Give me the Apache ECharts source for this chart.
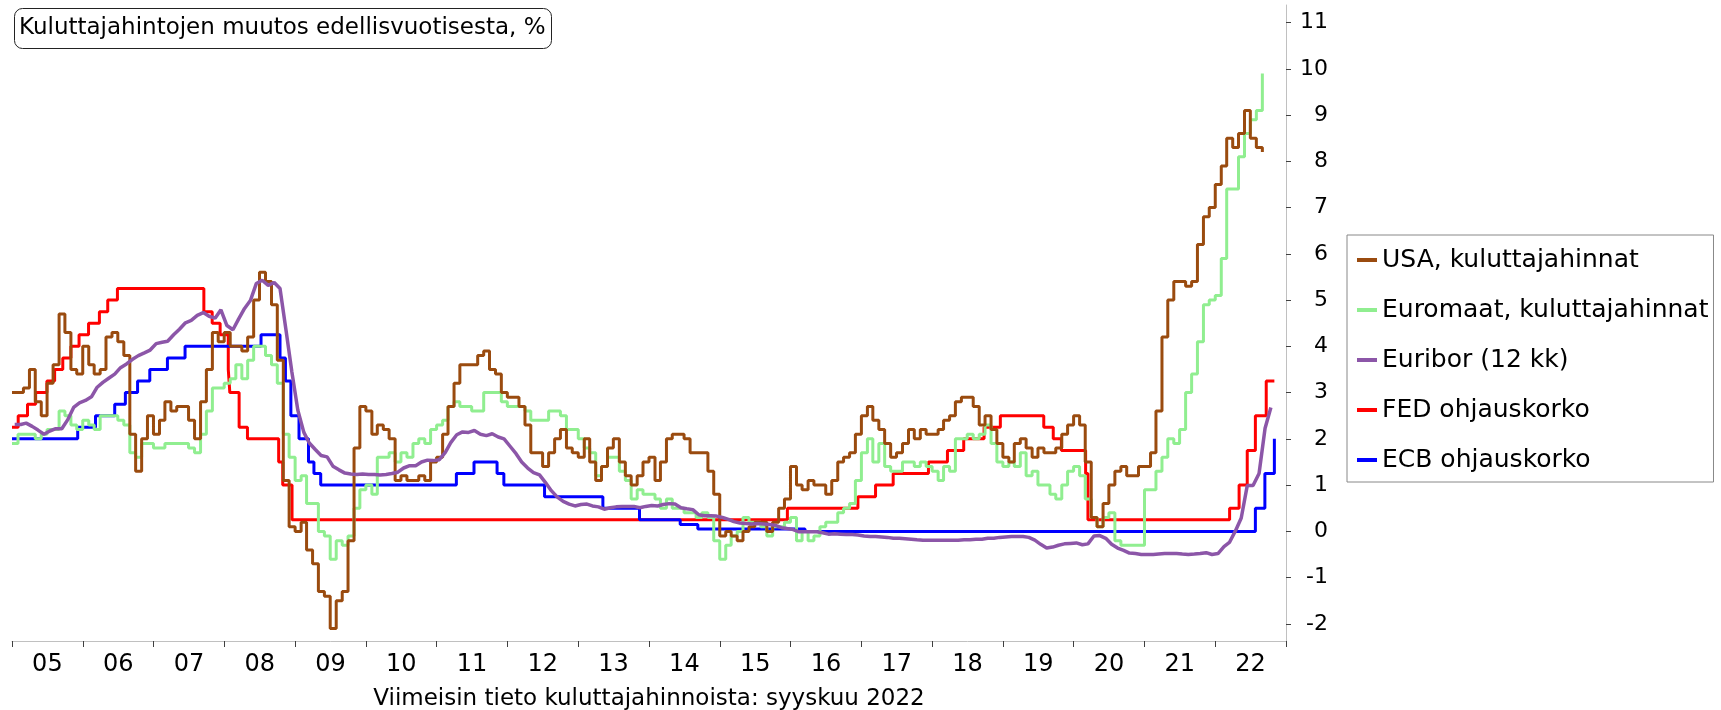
<!DOCTYPE html>
<html>
<head>
<meta charset="utf-8">
<script src="https://cdn.jsdelivr.net/npm/echarts@6/dist/echarts.min.js"></script>
<style>
  html, body { margin: 0; padding: 0; background: #fff; }
  #chart { width: 1721px; height: 710px; }
</style>
</head>
<body>
<div id="chart"></div>
<script>
// year labels on the x axis (2005-2022)
const yearLabels = ['05', '06', '07', '08', '09', '10', '11', '12', '13', '14', '15', '16', '17', '18', '19', '20', '21', '22'];
const yTicks = [-2, -1, 0, 1, 2, 3, 4, 5, 6, 7, 8, 9, 10, 11];

// monthly, Jan 2005 ->
const usaCpi = [
  3.0, 3.0, 3.1, 3.5, 2.8, 2.5, 3.2, 3.6, 4.7, 4.3, 3.5, 3.4,
  4.0, 3.6, 3.4, 3.5, 4.2, 4.3, 4.1, 3.8, 2.1, 1.3, 2.0, 2.5,
  2.1, 2.4, 2.8, 2.6, 2.7, 2.7, 2.4, 2.0, 2.8, 3.5, 4.3, 4.1,
  4.3, 4.0, 4.0, 3.9, 4.2, 5.0, 5.6, 5.4, 4.9, 3.7, 1.1, 0.1,
  0.0, 0.2, -0.4, -0.7, -1.3, -1.4, -2.1, -1.5, -1.3, -0.2, 1.8, 2.7,
  2.6, 2.1, 2.3, 2.2, 2.0, 1.1, 1.2, 1.1, 1.1, 1.2, 1.1, 1.5,
  1.6, 2.1, 2.7, 3.2, 3.6, 3.6, 3.6, 3.8, 3.9, 3.5, 3.4, 3.0,
  2.9, 2.9, 2.7, 2.3, 1.7, 1.7, 1.4, 1.7, 2.0, 2.2, 1.8, 1.7,
  1.6, 2.0, 1.5, 1.1, 1.4, 1.8, 2.0, 1.5, 1.2, 1.0, 1.2, 1.5,
  1.6, 1.1, 1.5, 2.0, 2.1, 2.1, 2.0, 1.7, 1.7, 1.7, 1.3, 0.8,
  -0.1, 0.0, -0.1, -0.2, 0.0, 0.1, 0.2, 0.2, 0.0, 0.2, 0.5, 0.7,
  1.4, 1.0, 0.9, 1.1, 1.0, 1.0, 0.8, 1.1, 1.5, 1.6, 1.7, 2.1,
  2.5, 2.7, 2.4, 2.2, 1.9, 1.6, 1.7, 1.9, 2.2, 2.0, 2.2, 2.1,
  2.1, 2.2, 2.4, 2.5, 2.8, 2.9, 2.9, 2.7, 2.3, 2.5, 2.2, 1.9,
  1.6, 1.5, 1.9, 2.0, 1.8, 1.6, 1.8, 1.7, 1.7, 1.8, 2.1, 2.3,
  2.5, 2.3, 1.5, 0.3, 0.1, 0.6, 1.0, 1.3, 1.4, 1.2, 1.2, 1.4,
  1.4, 1.7, 2.6, 4.2, 5.0, 5.4, 5.4, 5.3, 5.4, 6.2, 6.8, 7.0,
  7.5, 7.9, 8.5, 8.3, 8.6, 9.1, 8.5, 8.3, 8.2
];

const euroCpi = [
  1.9, 2.1, 2.1, 2.1, 2.0, 2.1, 2.2, 2.2, 2.6, 2.5, 2.3, 2.2,
  2.4, 2.3, 2.2, 2.5, 2.5, 2.5, 2.4, 2.3, 1.7, 1.6, 1.9, 1.9,
  1.8, 1.8, 1.9, 1.9, 1.9, 1.9, 1.8, 1.7, 2.1, 2.6, 3.1, 3.1,
  3.2, 3.3, 3.6, 3.3, 3.7, 4.0, 4.0, 3.8, 3.6, 3.2, 2.1, 1.6,
  1.1, 1.2, 0.6, 0.6, 0.0, -0.1, -0.6, -0.2, -0.3, -0.1, 0.5, 0.9,
  1.0, 0.8, 1.6, 1.6, 1.7, 1.5, 1.7, 1.6, 1.9, 2.0, 1.9, 2.2,
  2.3, 2.4, 2.7, 2.8, 2.7, 2.7, 2.6, 2.6, 3.0, 3.0, 3.0, 2.8,
  2.7, 2.7, 2.7, 2.6, 2.4, 2.4, 2.4, 2.6, 2.6, 2.5, 2.2, 2.2,
  2.0, 1.8, 1.7, 1.2, 1.4, 1.6, 1.6, 1.3, 1.1, 0.7, 0.9, 0.8,
  0.8, 0.7, 0.5, 0.7, 0.5, 0.5, 0.4, 0.4, 0.3, 0.4, 0.3, -0.2,
  -0.6, -0.3, -0.1, 0.0, 0.3, 0.2, 0.2, 0.1, -0.1, 0.1, 0.1, 0.2,
  0.3, -0.2, 0.0, -0.2, -0.1, 0.1, 0.2, 0.2, 0.4, 0.5, 0.6, 1.1,
  1.7, 2.0, 1.5, 1.9, 1.4, 1.3, 1.3, 1.5, 1.5, 1.4, 1.5, 1.4,
  1.3, 1.1, 1.4, 1.3, 2.0, 2.0, 2.1, 2.0, 2.1, 2.3, 1.9, 1.5,
  1.4, 1.5, 1.4, 1.7, 1.2, 1.3, 1.0, 1.0, 0.8, 0.7, 1.0, 1.3,
  1.4, 1.2, 0.7, 0.3, 0.1, 0.3, 0.4, -0.2, -0.3, -0.3, -0.3, -0.3,
  0.9, 0.9, 1.3, 1.6, 2.0, 1.9, 2.2, 3.0, 3.4, 4.1, 4.9, 5.0,
  5.1, 5.9, 7.4, 7.4, 8.1, 8.6, 8.9, 9.1, 9.9
];

// 12 month Euribor, monthly averages, Jan 2005 ->
const euribor12m = [
  2.31, 2.31, 2.34, 2.27, 2.19, 2.10, 2.17, 2.22, 2.22, 2.41, 2.68, 2.78,
  2.83, 2.91, 3.11, 3.22, 3.31, 3.40, 3.54, 3.62, 3.72, 3.80, 3.86, 3.92,
  4.06, 4.09, 4.11, 4.25, 4.37, 4.51, 4.56, 4.67, 4.73, 4.65, 4.61, 4.79,
  4.45, 4.36, 4.59, 4.82, 4.99, 5.36, 5.43, 5.32, 5.38, 5.25, 4.35, 3.45,
  2.62, 2.14, 1.91, 1.77, 1.64, 1.61, 1.41, 1.33, 1.26, 1.24, 1.23, 1.24,
  1.23, 1.23, 1.22, 1.23, 1.25, 1.28, 1.37, 1.42, 1.42, 1.50, 1.54, 1.53,
  1.55, 1.71, 1.92, 2.09, 2.15, 2.14, 2.18, 2.10, 2.07, 2.11, 2.04, 2.00,
  1.84, 1.68, 1.50, 1.37, 1.27, 1.22, 1.06, 0.88, 0.74, 0.65, 0.59, 0.55,
  0.58, 0.59, 0.55, 0.53, 0.48, 0.51, 0.53, 0.54, 0.54, 0.54, 0.51, 0.54,
  0.56, 0.55, 0.58, 0.60, 0.59, 0.51, 0.49, 0.47, 0.36, 0.34, 0.34, 0.33,
  0.30, 0.26, 0.21, 0.18, 0.17, 0.16, 0.17, 0.16, 0.15, 0.13, 0.08, 0.06,
  0.04, -0.01, -0.01, -0.01, -0.01, -0.03, -0.06, -0.05, -0.06, -0.07, -0.07, -0.08,
  -0.10, -0.11, -0.11, -0.12, -0.13, -0.15, -0.15, -0.16, -0.17, -0.18, -0.19, -0.19,
  -0.19, -0.19, -0.19, -0.19, -0.19, -0.18, -0.18, -0.17, -0.17, -0.15, -0.15, -0.13,
  -0.12, -0.11, -0.11, -0.11, -0.13, -0.19, -0.28, -0.36, -0.34, -0.30, -0.27, -0.26,
  -0.25, -0.29, -0.27, -0.10, -0.09, -0.15, -0.28, -0.36, -0.41, -0.47, -0.48, -0.50,
  -0.50, -0.50, -0.49, -0.48, -0.48, -0.48, -0.49, -0.50, -0.49, -0.48, -0.46, -0.50,
  -0.48, -0.33, -0.24, 0.01, 0.29, 0.99, 0.99, 1.25, 2.23, 2.68
];

// policy rates: change dates and new levels, last entry = end of data
const fedDates = [
  '2005-01-01', '2005-02-02', '2005-03-22', '2005-05-03', '2005-06-30', '2005-08-09',
  '2005-09-20', '2005-11-01', '2005-12-13', '2006-01-31', '2006-03-28', '2006-05-10',
  '2006-06-29', '2007-09-18', '2007-10-31', '2007-12-11', '2008-01-22', '2008-01-30',
  '2008-03-18', '2008-04-30', '2008-10-08', '2008-10-29', '2008-12-16', '2015-12-16',
  '2016-12-14', '2017-03-15', '2017-06-14', '2017-12-13', '2018-03-21', '2018-06-13',
  '2018-09-26', '2018-12-19', '2019-07-31', '2019-09-18', '2019-10-30', '2020-03-03',
  '2020-03-15', '2022-03-16', '2022-05-04', '2022-06-15', '2022-07-27', '2022-09-21',
  '2022-11-02'
];
const fedRate = [
  2.25, 2.5, 2.75, 3.0, 3.25, 3.5,
  3.75, 4.0, 4.25, 4.5, 4.75, 5.0,
  5.25, 4.75, 4.5, 4.25, 3.5, 3.0,
  2.25, 2.0, 1.5, 1.0, 0.25, 0.5,
  0.75, 1.0, 1.25, 1.5, 1.75, 2.0,
  2.25, 2.5, 2.25, 2.0, 1.75, 1.25,
  0.25, 0.5, 1.0, 1.75, 2.5, 3.25,
  3.25
];

const ecbDates = [
  '2005-01-01', '2005-12-06', '2006-03-08', '2006-06-15', '2006-08-09', '2006-10-11',
  '2006-12-13', '2007-03-14', '2007-06-13', '2008-07-09', '2008-10-15', '2008-11-12',
  '2008-12-10', '2009-01-21', '2009-03-11', '2009-04-08', '2009-05-13', '2011-04-13',
  '2011-07-13', '2011-11-09', '2011-12-14', '2012-07-11', '2013-05-08', '2013-11-13',
  '2014-06-11', '2014-09-10', '2016-03-16', '2022-07-27', '2022-09-14', '2022-11-02'
];
const ecbRate = [
  2.0, 2.25, 2.5, 2.75, 3.0, 3.25,
  3.5, 3.75, 4.0, 4.25, 3.75, 3.25,
  2.5, 2.0, 1.5, 1.25, 1.0, 1.25,
  1.5, 1.25, 1.0, 0.75, 0.5, 0.25,
  0.15, 0.05, 0.0, 0.5, 1.25, 2.0
];

const monthly = (values, day) => values.map((v, i) => [Date.UTC(2005, i, day), v]);
const byDate = (dates, values) => dates.map((d, i) => [Date.parse(d), values[i]]);

const chart = echarts.init(document.getElementById('chart'));

const font = '"DejaVu Sans", Verdana, sans-serif';

function stepSeries(name, color, data) {
  return {
    name,
    type: 'line',
    step: 'end',
    symbol: 'none',
    xAxisIndex: 0,
    data,
    lineStyle: { color, width: 3 },
    itemStyle: { color }
  };
}

chart.setOption({
  animation: false,
  textStyle: { fontFamily: font },
  title: {
    text: 'Kuluttajahintojen muutos edellisvuotisesta, %',
    left: 14,
    top: 8,
    padding: [7, 6, 7, 5],
    borderColor: '#222',
    borderWidth: 1,
    borderRadius: 8,
    textStyle: { fontFamily: font, fontSize: 23, fontWeight: 'normal', color: '#000', lineHeight: 27 }
  },
  legend: {
    data: ['USA, kuluttajahinnat', 'Euromaat, kuluttajahinnat', 'Euribor (12 kk)', 'FED ohjauskorko', 'ECB ohjauskorko'],
    orient: 'vertical',
    left: 1347,
    top: 235,
    padding: [10, 5, 7, 10],
    itemGap: 20,
    itemWidth: 20,
    itemHeight: 4,
    icon: 'rect',
    borderColor: '#888',
    borderWidth: 1,
    textStyle: { fontFamily: font, fontSize: 25, color: '#000', lineHeight: 30 }
  },
  grid: { left: 12, right: 435, top: 5, bottom: 69, outerBoundsMode: 'none' },
  xAxis: [
    {
      type: 'value',
      position: 'bottom',
      show: false,
      min: Date.UTC(2005, 0, 1),
      max: Date.UTC(2023, 0, 1)
    },
    {
      type: 'category',
      position: 'bottom',
      data: yearLabels,
      boundaryGap: true,
      name: 'Viimeisin tieto kuluttajahinnoista: syyskuu 2022',
      nameLocation: 'middle',
      nameGap: 47,
      nameTextStyle: { fontFamily: font, fontSize: 23, color: '#000' },
      axisLine: { onZero: false, lineStyle: { color: '#c0c0c0', width: 1 } },
      axisTick: { show: true, interval: 0, alignWithLabel: false, length: 6, lineStyle: { color: '#404040' } },
      axisLabel: { interval: 0, margin: 12, fontFamily: font, fontSize: 24, color: '#000' },
      splitLine: { show: false }
    }
  ],
  yAxis: {
    type: 'value',
    position: 'right',
    min: -2.37,
    max: 11.38,
    axisLine: { show: true, onZero: false, lineStyle: { color: '#c0c0c0', width: 1 } },
    axisTick: { show: true, length: 5, customValues: yTicks, lineStyle: { color: '#404040' } },
    axisLabel: { customValues: yTicks, align: 'right', margin: 42, fontFamily: font, fontSize: 22, color: '#000' },
    splitLine: { show: false }
  },
  series: [
    stepSeries('FED ohjauskorko', '#ff0000', byDate(fedDates, fedRate)),
    stepSeries('ECB ohjauskorko', '#0000ff', byDate(ecbDates, ecbRate)),
    stepSeries('Euromaat, kuluttajahinnat', '#90ee90', monthly(euroCpi, 1)),
    stepSeries('USA, kuluttajahinnat', '#9a4b0f', monthly(usaCpi, 1)),
    {
      name: 'Euribor (12 kk)',
      type: 'line',
      symbol: 'none',
      xAxisIndex: 0,
      data: monthly(euribor12m, 15),
      lineStyle: { color: '#8c56a8', width: 3.5 },
      itemStyle: { color: '#8c56a8' }
    }
  ]
});
</script>
</body>
</html>
